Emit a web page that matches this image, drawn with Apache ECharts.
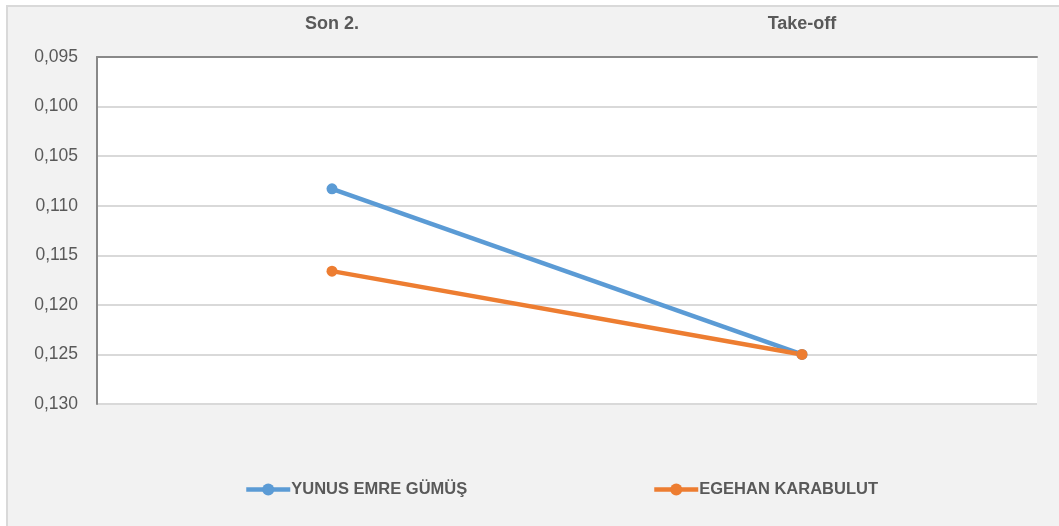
<!DOCTYPE html>
<html>
<head>
<meta charset="utf-8">
<script src="https://cdn.jsdelivr.net/npm/echarts@6/dist/echarts.min.js"></script>
<style>
  html, body { margin: 0; padding: 0; background: #ffffff; }
  #frame { position: absolute; left: 6px; top: 5px; width: 1059px; height: 526px;
           background: #f2f2f2; border-left: 2px solid #d9d9d9; border-top: 2px solid #d9d9d9; }
  #chart { position: absolute; left: 0; top: 0; width: 1059px; height: 526px; }
</style>
</head>
<body>
<div id="frame"></div>
<div id="chart"></div>
<script>
const categories = ['Son 2.', 'Take-off'];
const yunusValues = [0.1083, 0.1250];
const egehanValues = [0.1166, 0.1250];
const seriesNames = ['YUNUS EMRE GÜMÜŞ', 'EGEHAN KARABULUT'];

const FONT = "'Liberation Sans Narrow', 'Liberation Sans', sans-serif";
const legendText = { color: '#595959', fontSize: 16.5, fontWeight: 'bold', fontFamily: FONT, padding: [0, 0, 0, -4] };
const chart = echarts.init(document.getElementById('chart'), null, { renderer: 'canvas' });
chart.setOption({
  backgroundColor: 'transparent',
  animation: false,
  grid: { left: 97, right: 22, top: 57, bottom: 122, show: true, backgroundColor: '#ffffff', borderWidth: 0 },
  legend: [
    { data: [seriesNames[0]], left: 239, top: 476, itemWidth: 44, itemHeight: 15, itemGap: 0,
      lineStyle: { width: 4.5 }, textStyle: legendText },
    { data: [seriesNames[1]], left: 647, top: 476, itemWidth: 44, itemHeight: 15, itemGap: 0,
      lineStyle: { width: 4.5 }, textStyle: legendText }
  ],
  xAxis: {
    type: 'category', position: 'top', data: categories, boundaryGap: true,
    axisLine: { show: true, lineStyle: { color: '#898989', width: 2 } },
    axisTick: { show: false },
    axisLabel: { color: '#595959', fontSize: 18, fontWeight: 'bold', fontFamily: FONT, margin: 24 },
    splitLine: { show: false }
  },
  yAxis: {
    type: 'value', inverse: true, min: 0.095, max: 0.130, interval: 0.005,
    axisLine: { show: true, lineStyle: { color: '#898989', width: 2 } },
    axisTick: { show: false },
    axisLabel: { color: '#595959', fontSize: 17.5, fontFamily: FONT, margin: 19,
      formatter: v => v.toFixed(3).replace('.', ',') },
    splitLine: { show: true, lineStyle: { color: '#d9d9d9', width: 2 } }
  },
  series: [
    { name: seriesNames[0], type: 'line', data: yunusValues, symbol: 'circle', symbolSize: 11,
      lineStyle: { color: '#5b9bd5', width: 4.5 }, itemStyle: { color: '#5b9bd5' } },
    { name: seriesNames[1], type: 'line', data: egehanValues, symbol: 'circle', symbolSize: 11,
      lineStyle: { color: '#ed7d31', width: 4.5 }, itemStyle: { color: '#ed7d31' } }
  ]
});
</script>
</body>
</html>
